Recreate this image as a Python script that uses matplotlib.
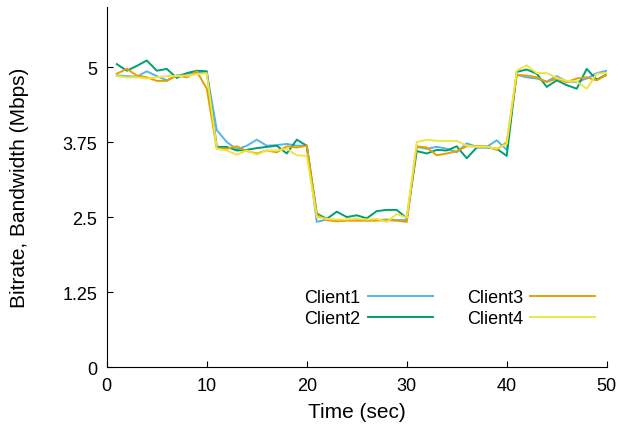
import matplotlib
matplotlib.use("Agg")
from matplotlib import pyplot as plt

# bitrate / bandwidth of four clients over time
t = list(range(1, 51))

client1 = [4.86, 4.85, 4.84, 4.93, 4.85, 4.78, 4.86, 4.89, 4.91, 4.91,
           3.95, 3.75, 3.63, 3.69, 3.79, 3.69, 3.70, 3.72, 3.69, 3.69,
           2.42, 2.46, 2.45, 2.45, 2.46, 2.45, 2.45, 2.46, 2.45, 2.45,
           3.67, 3.64, 3.67, 3.64, 3.58, 3.73, 3.67, 3.67, 3.78, 3.62,
           4.87, 4.83, 4.81, 4.76, 4.85, 4.76, 4.75, 4.81, 4.90, 4.94]
client2 = [5.05, 4.94, 5.02, 5.11, 4.94, 4.97, 4.82, 4.90, 4.94, 4.93,
           3.67, 3.67, 3.61, 3.62, 3.65, 3.67, 3.69, 3.56, 3.79, 3.69,
           2.56, 2.47, 2.59, 2.50, 2.53, 2.48, 2.60, 2.62, 2.62, 2.48,
           3.60, 3.56, 3.62, 3.61, 3.68, 3.48, 3.66, 3.66, 3.64, 3.52,
           4.92, 4.96, 4.89, 4.67, 4.78, 4.70, 4.64, 4.97, 4.79, 4.88]
client3 = [4.89, 4.97, 4.86, 4.83, 4.77, 4.77, 4.86, 4.83, 4.93, 4.64,
           3.64, 3.64, 3.68, 3.60, 3.56, 3.61, 3.58, 3.68, 3.66, 3.69,
           2.54, 2.45, 2.43, 2.44, 2.44, 2.44, 2.44, 2.45, 2.44, 2.42,
           3.68, 3.66, 3.53, 3.56, 3.60, 3.68, 3.68, 3.68, 3.62, 3.75,
           4.87, 4.86, 4.83, 4.75, 4.81, 4.75, 4.81, 4.83, 4.78, 4.87]
client4 = [4.85, 4.83, 4.83, 4.81, 4.83, 4.85, 4.85, 4.86, 4.88, 4.90,
           3.64, 3.61, 3.54, 3.61, 3.54, 3.61, 3.61, 3.64, 3.53, 3.52,
           2.50, 2.47, 2.46, 2.46, 2.47, 2.46, 2.47, 2.42, 2.55, 2.49,
           3.75, 3.79, 3.77, 3.77, 3.77, 3.69, 3.67, 3.67, 3.64, 3.72,
           4.94, 5.03, 4.90, 4.90, 4.82, 4.77, 4.76, 4.64, 4.89, 4.90]

names = ["Client1", "Client2", "Client3", "Client4"]
colors = ["#56B4E9", "#009E73", "#E69F00", "#F0E442"]
yticks = [0, 1.25, 2.5, 3.75, 5]
ytick_labels = ["0", "1.25", "2.5", "3.75", "5"]

plt.rcParams["font.family"] = ["Liberation Sans", "DejaVu Sans"]

fig = plt.figure(figsize=(6.21, 4.27), dpi=100)
ax = fig.add_axes([0.172, 0.138, 0.805, 0.843])

for series, name, c in zip([client1, client2, client3, client4], names, colors):
    ax.plot(t, series, color=c, linewidth=1.4, label=name)

ax.set_xlim(0, 50)
ax.set_ylim(0, 6.0)
ax.set_xticks([0, 10, 20, 30, 40, 50])
ax.set_yticks(yticks)
ax.set_yticklabels(ytick_labels)
ax.tick_params(direction="in", length=4, width=0.8, labelsize=13, pad=7)
ax.spines["top"].set_visible(False)
ax.spines["right"].set_visible(False)
ax.set_xlabel("Time (sec)", fontsize=15, labelpad=6)
ax.set_ylabel("Bitrate, Bandwidth (Mbps)", fontsize=15, labelpad=24)

ax.legend(ncol=2, loc="lower right", bbox_to_anchor=(0.995, 0.085),
          frameon=False, markerfirst=False, fontsize=13,
          handlelength=3.6, handletextpad=0.4, columnspacing=1.9,
          labelspacing=0.25, borderpad=0)

fig.savefig("out.png", dpi=100)
